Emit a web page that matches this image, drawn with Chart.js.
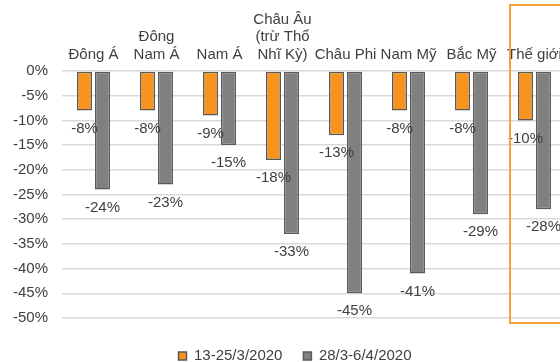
<!DOCTYPE html>
<html><head><meta charset="utf-8">
<script src="https://cdn.jsdelivr.net/npm/chart.js@4.4.1/dist/chart.umd.min.js"></script>
<style>
html,body{margin:0;padding:0;background:#fff;overflow:hidden;width:560px;height:362px;}
#wrap{position:absolute;left:0;top:0;width:590px;height:362px;}
</style></head><body>
<div id="wrap"><canvas id="c" width="590" height="362"></canvas></div>
<script>
const categories = [["Đông Á"], ["Đông", "Nam Á"], ["Nam Á"], ["Châu Âu", "(trừ Thổ", "Nhĩ Kỳ)"], ["Châu Phi"], ["Nam Mỹ"], ["Bắc Mỹ"], ["Thế giới"]];
const seriesNames = ["13-25/3/2020", "28/3-6/4/2020"];
const period1 = [-8, -8, -9, -18, -13, -8, -8, -10];
const period2 = [-24, -23, -15, -33, -45, -41, -29, -28];
const yTicks = [0, -5, -10, -15, -20, -25, -30, -35, -40, -45, -50];
const highlightIndex = 7;

const textColor = '#404040';
const font = {family: '"Liberation Sans", Arial, sans-serif', size: 15};

const dataLabels = {
  id: 'dataLabels',
  afterDatasetsDraw(chart) {
    const ctx = chart.ctx;
    ctx.save();
    ctx.font = '15px "Liberation Sans", Arial, sans-serif';
    ctx.fillStyle = textColor;
    ctx.textAlign = 'center';
    ctx.textBaseline = 'middle';
    chart.data.datasets.forEach((ds, di) => {
      const meta = chart.getDatasetMeta(di);
      meta.data.forEach((bar, i) => {
        ctx.fillText(ds.data[i] + '%', bar.x, bar.y + 18);
      });
    });
    ctx.restore();
  }
};

const highlightBox = {
  id: 'highlightBox',
  afterDraw(chart) {
    const x = chart.scales.x;
    const y = chart.scales.y;
    const half = (x.getPixelForValue(1) - x.getPixelForValue(0)) / 2;
    const left = x.getPixelForValue(highlightIndex) - half + 7;
    const ctx = chart.ctx;
    ctx.save();
    ctx.strokeStyle = '#f7a033';
    ctx.lineWidth = 2;
    ctx.strokeRect(left, 5, 200, y.bottom);
    ctx.restore();
  }
};

const legendShift = {
  id: 'legendShift',
  afterLayout(chart) {
    if (chart.legend) { chart.legend.left += 12; chart.legend.right += 12; }
  }
};

const chart = new Chart(document.getElementById('c'), {
  type: 'bar',
  data: {
    labels: categories,
    datasets: [
      {label: seriesNames[0], data: period1, backgroundColor: '#f7941d', borderColor: '#595959', borderWidth: 1.5, borderSkipped: false,
       categoryPercentage: 0.571, barPercentage: 0.833},
      {label: seriesNames[1], data: period2, backgroundColor: '#808080', borderColor: '#5a5a5a', borderWidth: 1.5, borderSkipped: false,
       categoryPercentage: 0.571, barPercentage: 0.833}
    ]
  },
  options: {
    responsive: false,
    animation: false,
    layout: {padding: {left: 0, right: 24, top: 0, bottom: 0}},
    plugins: {
      legend: {
        position: 'bottom',
        title: {display: true, text: ' ', font: {size: 5.5, lineHeight: 1}, padding: 2},
        labels: {boxWidth: 8, boxHeight: 8, padding: 21, color: textColor, font: font}
      },
      tooltip: {enabled: false}
    },
    scales: {
      x: {
        position: 'top',
        grid: {display: false, drawTicks: false},
        border: {display: false},
        ticks: {color: textColor, font: {family: font.family, size: 15, lineHeight: 1.15}, padding: 8, maxRotation: 0, autoSkip: false},
        afterFit(s) { s.height = 71; }
      },
      y: {
        min: -50, max: 0,
        afterBuildTicks(s) { s.ticks = yTicks.map(v => ({value: v})); },
        grid: {color: '#d9d9d9', lineWidth: 1.5, drawTicks: false},
        border: {display: false},
        ticks: {color: textColor, font: font, padding: 14, callback: v => v + '%'},
        afterFit(s) { s.width = 62; }
      }
    }
  },
  plugins: [dataLabels, highlightBox, legendShift]
});
const origFit = chart.legend.fit.bind(chart.legend);
chart.legend.fit = function () { origFit(); this.height = 44; };
chart.update();
</script>
</body></html>
